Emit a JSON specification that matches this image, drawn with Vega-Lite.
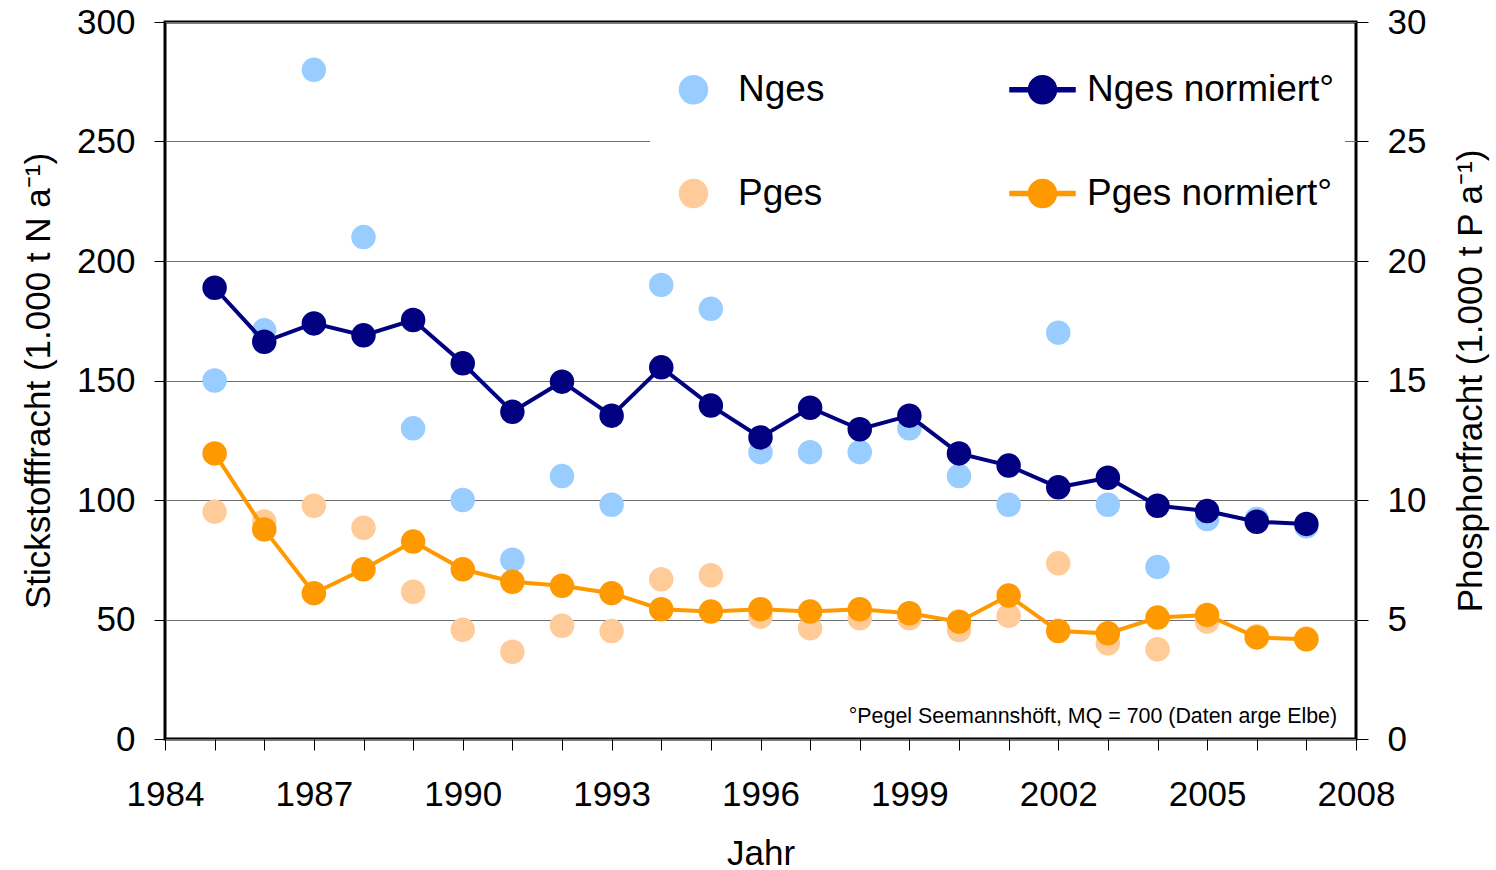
{
  "$schema": "https://vega.github.io/schema/vega-lite/v6.json",
  "width": 1191,
  "height": 717,
  "autosize": "none",
  "padding": {"left": 165, "top": 22, "right": 140, "bottom": 131},
  "background": "white",
  "config": {
    "font": "Liberation Sans",
    "view": {"stroke": "black", "strokeWidth": 3},
    "axis": {
      "labelFont": "Liberation Sans",
      "titleFont": "Liberation Sans",
      "labelColor": "black",
      "titleColor": "black",
      "labelFontSize": 35,
      "titleFontSize": 35,
      "titleFontWeight": "normal",
      "tickColor": "black",
      "tickWidth": 1,
      "domain": false
    }
  },
  "data": {
    "values": [
      {"year": 1985, "series": "Nges", "value": 150},
      {"year": 1986, "series": "Nges", "value": 171},
      {"year": 1987, "series": "Nges", "value": 280},
      {"year": 1988, "series": "Nges", "value": 210},
      {"year": 1989, "series": "Nges", "value": 130},
      {"year": 1990, "series": "Nges", "value": 100},
      {"year": 1991, "series": "Nges", "value": 75},
      {"year": 1992, "series": "Nges", "value": 110},
      {"year": 1993, "series": "Nges", "value": 98},
      {"year": 1994, "series": "Nges", "value": 190},
      {"year": 1995, "series": "Nges", "value": 180},
      {"year": 1996, "series": "Nges", "value": 120},
      {"year": 1997, "series": "Nges", "value": 120},
      {"year": 1998, "series": "Nges", "value": 120},
      {"year": 1999, "series": "Nges", "value": 130},
      {"year": 2000, "series": "Nges", "value": 110},
      {"year": 2001, "series": "Nges", "value": 98},
      {"year": 2002, "series": "Nges", "value": 170},
      {"year": 2003, "series": "Nges", "value": 98},
      {"year": 2004, "series": "Nges", "value": 72},
      {"year": 2005, "series": "Nges", "value": 92},
      {"year": 2006, "series": "Nges", "value": 92},
      {"year": 2007, "series": "Nges", "value": 89},
      {"year": 1985, "series": "Nges normiert°", "value": 188.8},
      {"year": 1986, "series": "Nges normiert°", "value": 166.2},
      {"year": 1987, "series": "Nges normiert°", "value": 173.9},
      {"year": 1988, "series": "Nges normiert°", "value": 168.9},
      {"year": 1989, "series": "Nges normiert°", "value": 175.3},
      {"year": 1990, "series": "Nges normiert°", "value": 157.2},
      {"year": 1991, "series": "Nges normiert°", "value": 136.9},
      {"year": 1992, "series": "Nges normiert°", "value": 149.5},
      {"year": 1993, "series": "Nges normiert°", "value": 135.3},
      {"year": 1994, "series": "Nges normiert°", "value": 155.5},
      {"year": 1995, "series": "Nges normiert°", "value": 139.5},
      {"year": 1996, "series": "Nges normiert°", "value": 126.2},
      {"year": 1997, "series": "Nges normiert°", "value": 138.6},
      {"year": 1998, "series": "Nges normiert°", "value": 129.6},
      {"year": 1999, "series": "Nges normiert°", "value": 135.3},
      {"year": 2000, "series": "Nges normiert°", "value": 119.5},
      {"year": 2001, "series": "Nges normiert°", "value": 114.4},
      {"year": 2002, "series": "Nges normiert°", "value": 105.3},
      {"year": 2003, "series": "Nges normiert°", "value": 109.3},
      {"year": 2004, "series": "Nges normiert°", "value": 97.6},
      {"year": 2005, "series": "Nges normiert°", "value": 95.4},
      {"year": 2006, "series": "Nges normiert°", "value": 90.9},
      {"year": 2007, "series": "Nges normiert°", "value": 90.0},
      {"year": 1985, "series": "Pges", "value": 9.51},
      {"year": 1986, "series": "Pges", "value": 9.1},
      {"year": 1987, "series": "Pges", "value": 9.76},
      {"year": 1988, "series": "Pges", "value": 8.84},
      {"year": 1989, "series": "Pges", "value": 6.16},
      {"year": 1990, "series": "Pges", "value": 4.57},
      {"year": 1991, "series": "Pges", "value": 3.65},
      {"year": 1992, "series": "Pges", "value": 4.74},
      {"year": 1993, "series": "Pges", "value": 4.52},
      {"year": 1994, "series": "Pges", "value": 6.68},
      {"year": 1995, "series": "Pges", "value": 6.85},
      {"year": 1996, "series": "Pges", "value": 5.12},
      {"year": 1997, "series": "Pges", "value": 4.63},
      {"year": 1998, "series": "Pges", "value": 5.05},
      {"year": 1999, "series": "Pges", "value": 5.05},
      {"year": 2000, "series": "Pges", "value": 4.56},
      {"year": 2001, "series": "Pges", "value": 5.15},
      {"year": 2002, "series": "Pges", "value": 7.35},
      {"year": 2003, "series": "Pges", "value": 4.0},
      {"year": 2004, "series": "Pges", "value": 3.75},
      {"year": 2005, "series": "Pges", "value": 4.91},
      {"year": 2006, "series": "Pges", "value": 4.3},
      {"year": 2007, "series": "Pges", "value": 4.2},
      {"year": 1985, "series": "Pges normiert°", "value": 11.95},
      {"year": 1986, "series": "Pges normiert°", "value": 8.77},
      {"year": 1987, "series": "Pges normiert°", "value": 6.1},
      {"year": 1988, "series": "Pges normiert°", "value": 7.1},
      {"year": 1989, "series": "Pges normiert°", "value": 8.26},
      {"year": 1990, "series": "Pges normiert°", "value": 7.1},
      {"year": 1991, "series": "Pges normiert°", "value": 6.58},
      {"year": 1992, "series": "Pges normiert°", "value": 6.41},
      {"year": 1993, "series": "Pges normiert°", "value": 6.1},
      {"year": 1994, "series": "Pges normiert°", "value": 5.43},
      {"year": 1995, "series": "Pges normiert°", "value": 5.33},
      {"year": 1996, "series": "Pges normiert°", "value": 5.43},
      {"year": 1997, "series": "Pges normiert°", "value": 5.33},
      {"year": 1998, "series": "Pges normiert°", "value": 5.43},
      {"year": 1999, "series": "Pges normiert°", "value": 5.26},
      {"year": 2000, "series": "Pges normiert°", "value": 4.91},
      {"year": 2001, "series": "Pges normiert°", "value": 6.0},
      {"year": 2002, "series": "Pges normiert°", "value": 4.52},
      {"year": 2003, "series": "Pges normiert°", "value": 4.42},
      {"year": 2004, "series": "Pges normiert°", "value": 5.08},
      {"year": 2005, "series": "Pges normiert°", "value": 5.19},
      {"year": 2006, "series": "Pges normiert°", "value": 4.25},
      {"year": 2007, "series": "Pges normiert°", "value": 4.17},
      {"series": "note", "note": "°Pegel Seemannshöft, MQ = 700 (Daten arge Elbe)"}
    ]
  },
  "layer": [
    {
      "layer": [
        {
          "transform": [{"filter": "datum.series == 'Nges'"}],
          "mark": {"type": "circle", "size": 600, "opacity": 1},
          "encoding": {
            "x": {
              "field": "year",
              "type": "quantitative",
              "scale": {"domain": [1984, 2008], "nice": false, "zero": false},
              "axis": {
                "title": "Jahr",
                "values": [1984,1985,1986,1987,1988,1989,1990,1991,1992,1993,1994,1995,1996,1997,1998,1999,2000,2001,2002,2003,2004,2005,2006,2007,2008],
                "format": "d",
                "labelExpr": "(datum.value - 1984) % 3 == 0 ? datum.label : ''",
                "tickSize": 11,
                "labelPadding": 27,
                "titlePadding": 24,
                "grid": false,
                "labelFlush": false,
                "labelOverlap": false
              }
            },
            "y": {
              "field": "value",
              "type": "quantitative",
              "scale": {"domain": [0, 300], "nice": false},
              "axis": {
                "orient": "left",
                "title": "Stickstofffracht (1.000 t N a⁻¹)",
                "values": [0, 50, 100, 150, 200, 250, 300],
                "grid": true,
                "gridColor": "#6e6e6e",
                "gridWidth": 1,
                "tickSize": 11,
                "labelPadding": 19,
                "titlePadding": 20
              }
            },
            "color": {
              "field": "series",
              "type": "nominal",
              "scale": {
                "domain": ["Nges", "Pges", "Nges normiert°", "Pges normiert°"],
                "range": ["#99CCFF", "#FFCC99", "#000080", "#FF9900"]
              },
              "legend": {
                "title": null,
                "orient": "none",
                "legendX": 485,
                "legendY": 24,
                "columns": 2,
                "columnPadding": 182,
                "rowPadding": 52,
                "symbolSize": 4225,
                "symbolType": {"expr": "indexof(datum.value, 'normiert') >= 0 ? 'M-1,-0.06L-0.42,-0.06L-0.42,0.06L-1,0.06Z M0.42,-0.06L1,-0.06L1,0.06L0.42,0.06Z M0.43,0A0.43,0.43 0 1,1 -0.43,0A0.43,0.43 0 1,1 0.43,0Z' : 'M0.43,0A0.43,0.43 0 1,1 -0.43,0A0.43,0.43 0 1,1 0.43,0Z'"},
                "labelFont": "Liberation Sans",
                "labelFontSize": 37,
                "labelColor": "black",
                "labelOffset": 11,
                "labelLimit": 500,
                "fillColor": "white",
                "padding": 10,
                "encode": {
                  "symbols": {
                    "fill": {"value": {"expr": "scale('color', datum.value)"}},
                    "stroke": {"value": "transparent"},
                    "strokeWidth": {"value": 0},
                    "opacity": {"value": 1},
                    "fillOpacity": {"value": 1}
                  }
                }
              }
            }
          }
        },
        {
          "transform": [{"filter": "datum.series == 'Nges normiert°'"}],
          "mark": {"type": "line", "strokeWidth": 4},
          "encoding": {
            "x": {"field": "year", "type": "quantitative"},
            "y": {"field": "value", "type": "quantitative"},
            "color": {"field": "series", "type": "nominal"}
          }
        },
        {
          "transform": [{"filter": "datum.series == 'Nges normiert°'"}],
          "mark": {"type": "circle", "size": 600, "opacity": 1},
          "encoding": {
            "x": {"field": "year", "type": "quantitative"},
            "y": {"field": "value", "type": "quantitative"},
            "color": {"field": "series", "type": "nominal"}
          }
        },
        {
          "transform": [{"filter": "datum.series == 'note'"}],
          "mark": {"type": "text", "align": "right", "baseline": "alphabetic", "fontSize": 21.4, "fill": "black"},
          "encoding": {
            "x": {"datum": 2007.62, "type": "quantitative"},
            "y": {"datum": 6.7, "type": "quantitative"},
            "text": {"field": "note", "type": "nominal"}
          }
        }
      ]
    },
    {
      "layer": [
        {
          "transform": [{"filter": "datum.series == 'Pges'"}],
          "mark": {"type": "circle", "size": 600, "opacity": 1},
          "encoding": {
            "x": {"field": "year", "type": "quantitative"},
            "y": {
              "field": "value",
              "type": "quantitative",
              "scale": {"domain": [0, 30], "nice": false},
              "axis": {
                "orient": "right",
                "title": "Phosphorfracht (1.000 t P a⁻¹)",
                "titleAngle": 270,
                "titleBaseline": "top",
                "values": [0, 5, 10, 15, 20, 25, 30],
                "grid": false,
                "tickSize": 12,
                "labelPadding": 19,
                "titlePadding": 28
              }
            },
            "color": {"field": "series", "type": "nominal"}
          }
        },
        {
          "transform": [{"filter": "datum.series == 'Pges normiert°'"}],
          "mark": {"type": "line", "strokeWidth": 4},
          "encoding": {
            "x": {"field": "year", "type": "quantitative"},
            "y": {"field": "value", "type": "quantitative"},
            "color": {"field": "series", "type": "nominal"}
          }
        },
        {
          "transform": [{"filter": "datum.series == 'Pges normiert°'"}],
          "mark": {"type": "circle", "size": 600, "opacity": 1},
          "encoding": {
            "x": {"field": "year", "type": "quantitative"},
            "y": {"field": "value", "type": "quantitative"},
            "color": {"field": "series", "type": "nominal"}
          }
        }
      ]
    }
  ],
  "resolve": {"scale": {"y": "independent"}}
}
